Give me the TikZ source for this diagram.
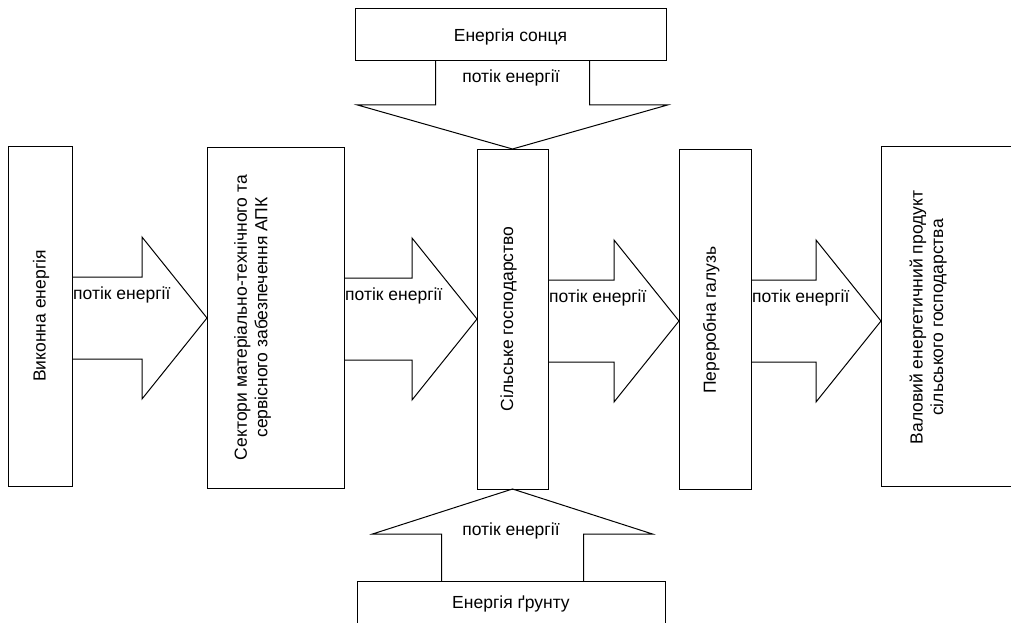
\documentclass[tikz,border=0pt]{standalone}
\usepackage{fontspec}
\setmainfont{Liberation Sans}
\usetikzlibrary{calc}

\newcommand{\rozmir}{\fontsize{17.5}{20.5}\selectfont}

\tikzset{
  blok/.style={draw, line width=1pt, inner sep=0pt, outer sep=0pt},
  strilka/.style={draw, line width=1pt, line join=miter},
  napys/.style={font=\rozmir, inner sep=0pt}
}

% горизонтальна стрілка-потік між двома блоками
\newcommand{\potik}[3]{%
  \draw[strilka] ($(#1.east |- 0,#3)+(0,-41)$) -- ($(#2.west |- 0,#3)+(-65,-41)$) -- ++(0,-40)
    -- (#2.west |- 0,#3) -- ++(-65,81) -- ++(0,-40) -- ($(#1.east |- 0,#3)+(0,41)$);
  \node[napys, anchor=base west] (p-#1) at ($(#1.east |- 0,#3)+(1,-19)$) {потік енергії};
}

\begin{document}
\begin{tikzpicture}[x=1pt,y=-1pt]
            \useasboundingbox (0,0) rectangle (1011,623);

            % Блоки ланцюга
            \node[blok, minimum width=64pt, minimum height=340pt] (vykonna) at (40,316) {};
            \node[blok, minimum width=137pt, minimum height=341pt] (sektory) at (275.5,317.5) {};
            \node[blok, minimum width=71pt, minimum height=340pt] (silske) at (512.5,319) {};
            \node[blok, minimum width=72pt, minimum height=340pt] (pererobka) at (715,319) {};
            \node[blok, minimum width=140pt, minimum height=340pt] (valovyi) at (951,316) {};

            % Джерела зверху і знизу
            \node[blok, minimum width=311pt, minimum height=52pt] (sontse) at (510.5,35) {};
            \node[blok, minimum width=308pt, minimum height=52pt] (gruntu) at (511,607) {};

            % Написи в блоках
            \node[napys, rotate=90, anchor=base] (t-vykonna) at (45.5,316) {Виконна енергія};
            \node[napys, rotate=90, anchor=north, align=center] (t-sektory) at (234,317.5)
                {Сектори матеріально-технічного та\\сервісного забезпечення АПК};
            \node[napys, rotate=90, anchor=base] (t-silske) at (513,319) {Сільське господарство};
            \node[napys, rotate=90, anchor=base] (t-pererobka) at (715.8,320) {Переробна галузь};
            \node[napys, rotate=90, anchor=north, align=center] (t-valovyi) at (909.5,317.5)
                {Валовий енергетичний продукт\\сільського господарства};
            \node[napys, anchor=base] (t-sontse) at (510.5,41.7) {Енергія сонця};
            \node[napys, anchor=base] (t-gruntu) at (511,608.5) {Енергія ґрунту};

            % Потоки енергії по ланцюгу
            \potik{vykonna}{sektory}{318}
            \potik{sektory}{silske}{319}
            \potik{silske}{pererobka}{321}
            \potik{pererobka}{valovyi}{321}

            % Потік від сонця
            \coordinate (vtop) at (silske.north);
            \draw[strilka] ($(vtop)+(-77,-88)$) -- ++(0,44) -- ++(-78,0) -- (vtop)
                -- ++(155,-44) -- ++(-78,0) -- ++(0,-44);
            \node[napys, anchor=base] (p-sontse) at (511,83) {потік енергії};

            % Потік від ґрунту
            \coordinate (vbot) at (silske.south);
            \draw[strilka] ($(vbot)+(-71,92)$) -- ++(0,-47) -- ++(-69,0) -- (vbot)
                -- ++(140,45) -- ++(-69,0) -- ++(0,47);
            \node[napys, anchor=base] (p-gruntu) at (511,535.5) {потік енергії};
\end{tikzpicture}
\end{document}
